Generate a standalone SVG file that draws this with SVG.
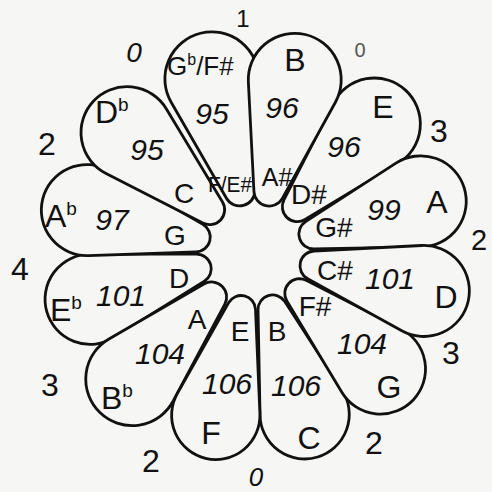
<svg xmlns="http://www.w3.org/2000/svg" xmlns:xlink="http://www.w3.org/1999/xlink" width="492" height="492" viewBox="0 0 492 492">
<style>
text{font-family:"Liberation Sans",Arial,sans-serif;fill:#111}
.n{font-size:32px;text-anchor:middle}
.ns{font-size:32px}
.i{font-size:28px;text-anchor:middle}
.v{font-size:30px;font-style:italic;text-anchor:middle}
.c{font-size:32px;text-anchor:middle}
.f{font-size:19px}
.p{fill:#f6f6f4;stroke:#111;stroke-width:2.8;stroke-linejoin:round;vector-effect:non-scaling-stroke}
</style>
<defs>
<path id="petal" class="p" d="M57.89,14.42 L162.38,44.23 A46,46 0 1 0 162.38,-44.23 L57.89,-14.42 A15,15 0 0 0 57.89,14.42 Z"/>
</defs>
<rect width="492" height="492" fill="#f6f6f4"/>

<g id="petal-E">
<use xlink:href="#petal" transform="translate(255 252) rotate(-47)"/>
<text class="n" x="383" y="118">E</text>
<text class="v" x="344" y="157">96</text>
<text class="i" x="309" y="204">D#</text>
</g>
<g id="petal-Eb">
<use xlink:href="#petal" transform="translate(255 252) rotate(164) scale(0.98)"/>
<text class="ns" x="50" y="321">E<tspan class="f" dy="-12">b</tspan></text>
<text class="v" x="121" y="306">101</text>
<text class="i" x="179" y="288">D</text>
</g>
<g id="petal-C">
<use xlink:href="#petal" transform="translate(255 252) rotate(73) scale(0.97)"/>
<text class="n" x="309" y="449">C</text>
<text class="v" x="296" y="396">106</text>
<text class="i" x="277" y="341">B</text>
</g>
<g id="petal-Ab">
<use xlink:href="#petal" transform="translate(255 252) rotate(194) scale(0.99)"/>
<text class="ns" x="45" y="227">A<tspan class="f" dy="-12">b</tspan></text>
<text class="v" x="112" y="230">97</text>
<text class="i" x="175" y="245">G</text>
</g>
<g id="petal-Db">
<use xlink:href="#petal" transform="translate(255 252) rotate(223)"/>
<text class="ns" x="95" y="123">D<tspan class="f" dy="-12">b</tspan></text>
<text class="v" x="147" y="160">95</text>
<text class="i" x="184" y="203">C</text>
</g>
<g id="petal-Gb">
<use xlink:href="#petal" transform="translate(255 252) rotate(-104) scale(1.02)"/>
<text class="ns" x="167" y="75" style="font-size:26px">G<tspan class="f" style="font-size:16px" dy="-10">b</tspan><tspan dy="10">/F#</tspan></text>
<text class="v" x="212" y="124">95</text>
<text class="i" x="230" y="192" style="font-size:22px" textLength="44" lengthAdjust="spacingAndGlyphs">F/E#</text>
</g>
<g id="petal-B">
<use xlink:href="#petal" transform="translate(255 252) rotate(-77) scale(1.01)"/>
<text class="n" x="295" y="71">B</text>
<text class="v" x="282" y="118">96</text>
<text class="i" x="277" y="186" style="font-size:25px">A#</text>
</g>
<g id="petal-A">
<use xlink:href="#petal" transform="translate(255 252) rotate(-17) scale(0.99)"/>
<text class="n" x="437" y="213">A</text>
<text class="v" x="384" y="220">99</text>
<text class="i" x="334" y="237">G#</text>
</g>
<g id="petal-G">
<use xlink:href="#petal" transform="translate(255 252) rotate(43) scale(0.98)"/>
<text class="n" x="389" y="398">G</text>
<text class="v" x="362" y="354">104</text>
<text class="i" x="315" y="316">F#</text>
</g>
<g id="petal-D">
<use xlink:href="#petal" transform="translate(255 252) rotate(13) scale(0.99)"/>
<text class="n" x="446" y="308">D</text>
<text class="v" x="390" y="289">101</text>
<text class="i" x="335" y="280">C#</text>
</g>
<g id="petal-Bb">
<use xlink:href="#petal" transform="translate(255 252) rotate(134) scale(1.01)"/>
<text class="ns" x="101" y="409">B<tspan class="f" dy="-12">b</tspan></text>
<text class="v" x="160" y="364">104</text>
<text class="i" x="197" y="329">A</text>
</g>
<g id="petal-F">
<use xlink:href="#petal" transform="translate(255 252) rotate(103.5) scale(0.96)"/>
<text class="n" x="211" y="444">F</text>
<text class="v" x="227" y="394">106</text>
<text class="i" x="240" y="341">E</text>
</g>

<g id="counts">
<text class="c" x="243" y="27" style="font-size:24px">1</text>
<text class="c" x="134" y="62" style="font-size:28px;font-style:italic">0</text>
<text class="c" x="360" y="57" style="font-size:20px;fill:#555">0</text>
<text class="c" x="439" y="142">3</text>
<text class="c" x="479" y="250" style="font-size:29px">2</text>
<text class="c" x="451" y="364">3</text>
<text class="c" x="374" y="454">2</text>
<text class="c" x="256" y="486" style="font-size:26px;font-style:italic">0</text>
<text class="c" x="151" y="472">2</text>
<text class="c" x="50" y="396">3</text>
<text class="c" x="20" y="280">4</text>
<text class="c" x="47" y="155">2</text>
</g>
</svg>
